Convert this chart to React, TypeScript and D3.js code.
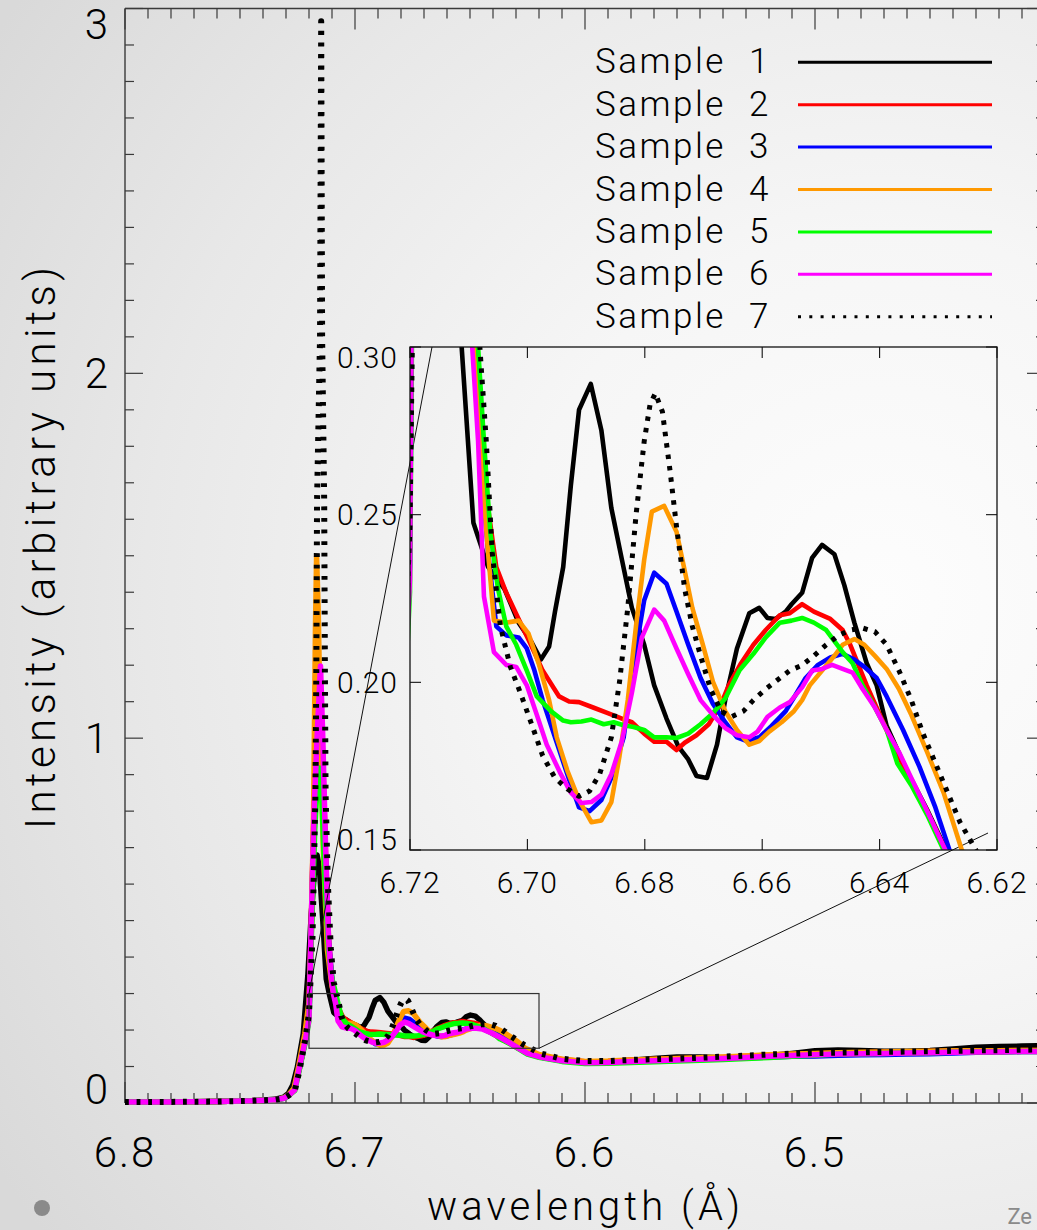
import React from 'react';
import * as d3 from 'd3';

type Pt = [number, number];

const W = 1037;
const H = 1230;

const sampleNames = ['Sample 1', 'Sample 2', 'Sample 3', 'Sample 4', 'Sample 5', 'Sample 6', 'Sample 7'];
const sampleColors = ['#000000', '#ff0000', '#0000ff', '#ff9900', '#00ff00', '#ff00ff', '#000000'];
const sampleDotted = [false, false, false, false, false, false, true];

const mainXTicks = [6.8, 6.7, 6.6, 6.5];
const mainYTicks = [0, 1, 2, 3];
const insetXTicks = [6.72, 6.70, 6.68, 6.66, 6.64, 6.62];
const insetYTicks = [0.15, 0.20, 0.25, 0.30];

// wavelength (Å), intensity
const sample1: Pt[] = [
  [6.800, 0.003], [6.780, 0.003], [6.760, 0.004], [6.745, 0.006], [6.735, 0.010], [6.731, 0.016],
  [6.729, 0.026], [6.727, 0.050], [6.725, 0.100], [6.7225, 0.190], [6.7205, 0.350], [6.7190, 0.520],
  [6.7175, 0.645], [6.7165, 0.680], [6.7155, 0.645], [6.7140, 0.500], [6.7125, 0.340], [6.7112, 0.300],
  [6.7092, 0.2476], [6.7067, 0.2344], [6.7039, 0.2278], [6.7015, 0.2178], [6.6994, 0.2123], [6.6977, 0.2068],
  [6.6963, 0.2107], [6.6953, 0.2211], [6.6939, 0.2344], [6.6926, 0.2587], [6.6912, 0.2813], [6.6892, 0.2890],
  [6.6874, 0.2752], [6.6857, 0.2520], [6.6839, 0.2366], [6.6822, 0.2222], [6.6801, 0.2112], [6.6784, 0.1991],
  [6.6763, 0.1892], [6.6743, 0.1809], [6.6726, 0.1770], [6.6712, 0.1721], [6.6694, 0.1715], [6.6677, 0.1814],
  [6.6663, 0.1947], [6.6643, 0.2101], [6.6622, 0.2206], [6.6605, 0.2222], [6.6591, 0.2192], [6.6577, 0.2189],
  [6.6560, 0.2211], [6.6550, 0.2233], [6.6532, 0.2267], [6.6515, 0.2371], [6.6498, 0.2410], [6.6477, 0.2382],
  [6.6460, 0.2289], [6.6443, 0.2178], [6.6422, 0.2057], [6.6405, 0.1991], [6.6388, 0.1870], [6.6353, 0.1735],
  [6.6319, 0.1620], [6.6288, 0.1505], [6.6250, 0.1380],
  [6.620, 0.128], [6.610, 0.117], [6.600, 0.112], [6.590, 0.113], [6.580, 0.117], [6.570, 0.122],
  [6.560, 0.126], [6.550, 0.126], [6.540, 0.124], [6.530, 0.126], [6.520, 0.130], [6.510, 0.136],
  [6.500, 0.143], [6.490, 0.145], [6.480, 0.144], [6.470, 0.142], [6.460, 0.142], [6.450, 0.144],
  [6.440, 0.148], [6.430, 0.153], [6.420, 0.155], [6.410, 0.156], [6.400, 0.157],
];

const sample2: Pt[] = [
  [6.800, 0.003], [6.780, 0.003], [6.760, 0.004], [6.745, 0.006], [6.735, 0.009], [6.731, 0.013],
  [6.729, 0.020], [6.7265, 0.036], [6.7242, 0.095], [6.7215, 0.175], [6.7200, 0.240], [6.7190, 0.500],
  [6.7178, 0.800], [6.7162, 1.040], [6.7152, 1.100], [6.7142, 0.980], [6.7128, 0.680], [6.7115, 0.450],
  [6.7102, 0.340], [6.7091, 0.300],
  [6.7077, 0.2719], [6.7067, 0.2520], [6.7053, 0.2344], [6.7036, 0.2267], [6.7015, 0.2189], [6.6994, 0.2112],
  [6.6974, 0.2035], [6.6946, 0.1958], [6.6929, 0.1943], [6.6912, 0.1941], [6.6888, 0.1925], [6.6863, 0.1908],
  [6.6839, 0.1892], [6.6822, 0.1881], [6.6801, 0.1847], [6.6784, 0.1823], [6.6763, 0.1823], [6.6746, 0.1798],
  [6.6732, 0.1820], [6.6712, 0.1842], [6.6691, 0.1875], [6.6670, 0.1936], [6.6657, 0.1991], [6.6636, 0.2057],
  [6.6615, 0.2112], [6.6594, 0.2156], [6.6570, 0.2200], [6.6553, 0.2206], [6.6532, 0.2233], [6.6512, 0.2211],
  [6.6484, 0.2189], [6.6463, 0.2156], [6.6450, 0.2112], [6.6422, 0.1991], [6.6388, 0.1858], [6.6353, 0.1726],
  [6.6319, 0.1616], [6.6288, 0.1500], [6.6250, 0.1390],
  [6.620, 0.130], [6.610, 0.119], [6.600, 0.113], [6.590, 0.114], [6.580, 0.117], [6.570, 0.119],
  [6.560, 0.121], [6.550, 0.123], [6.540, 0.125], [6.530, 0.128], [6.520, 0.131], [6.510, 0.133],
  [6.500, 0.135], [6.490, 0.137], [6.480, 0.138], [6.470, 0.139], [6.460, 0.140], [6.450, 0.141],
  [6.440, 0.142], [6.430, 0.143], [6.420, 0.143], [6.410, 0.144], [6.400, 0.144],
];

const sample3: Pt[] = [
  [6.800, 0.003], [6.780, 0.003], [6.760, 0.004], [6.745, 0.006], [6.735, 0.009], [6.731, 0.013],
  [6.729, 0.020], [6.7265, 0.036], [6.7242, 0.095], [6.7215, 0.175], [6.7200, 0.235], [6.7190, 0.480],
  [6.7178, 0.780], [6.7162, 1.000], [6.7152, 1.050], [6.7142, 0.950], [6.7128, 0.660], [6.7115, 0.440],
  [6.7100, 0.335], [6.7088, 0.300],
  [6.7077, 0.2608], [6.7067, 0.2388], [6.7053, 0.2167], [6.7036, 0.2140], [6.7015, 0.2134], [6.7001, 0.2101],
  [6.6988, 0.2035], [6.6974, 0.1947], [6.6953, 0.1836], [6.6932, 0.1726], [6.6912, 0.1627], [6.6894, 0.1616],
  [6.6874, 0.1649], [6.6857, 0.1715], [6.6836, 0.1836], [6.6819, 0.2057], [6.6801, 0.2245], [6.6784, 0.2327],
  [6.6763, 0.2294], [6.6746, 0.2211], [6.6726, 0.2112], [6.6705, 0.2013], [6.6684, 0.1936], [6.6663, 0.1881],
  [6.6643, 0.1836], [6.6626, 0.1825], [6.6605, 0.1836], [6.6584, 0.1870], [6.6560, 0.1914], [6.6543, 0.1963],
  [6.6526, 0.2013], [6.6505, 0.2052], [6.6484, 0.2074], [6.6463, 0.2085], [6.6443, 0.2068], [6.6426, 0.2046],
  [6.6405, 0.2013], [6.6388, 0.1958], [6.6360, 0.1858], [6.6332, 0.1748], [6.6305, 0.1627], [6.6281, 0.1500],
  [6.6250, 0.1380],
  [6.620, 0.127], [6.610, 0.116], [6.600, 0.110], [6.590, 0.111], [6.580, 0.113], [6.570, 0.115],
  [6.560, 0.117], [6.550, 0.119], [6.540, 0.121], [6.530, 0.124], [6.520, 0.126], [6.510, 0.128],
  [6.500, 0.129], [6.490, 0.131], [6.480, 0.132], [6.470, 0.133], [6.460, 0.134], [6.450, 0.135],
  [6.440, 0.137], [6.430, 0.139], [6.420, 0.140], [6.410, 0.141], [6.400, 0.141],
];

const sample4: Pt[] = [
  [6.800, 0.003], [6.780, 0.003], [6.760, 0.004], [6.745, 0.006], [6.735, 0.009], [6.731, 0.014],
  [6.729, 0.022], [6.7265, 0.040], [6.7245, 0.100], [6.7218, 0.190], [6.7200, 0.276], [6.7190, 0.470],
  [6.7180, 0.800], [6.7172, 1.300], [6.7167, 1.497], [6.7160, 1.350], [6.7150, 1.000], [6.7138, 0.700],
  [6.7120, 0.420], [6.7100, 0.320], [6.7091, 0.300],
  [6.7077, 0.2608], [6.7067, 0.2388], [6.7057, 0.2184], [6.7036, 0.2178], [6.7015, 0.2184], [6.6998, 0.2145],
  [6.6981, 0.2057], [6.6963, 0.1947], [6.6950, 0.1836], [6.6932, 0.1737], [6.6912, 0.1649], [6.6891, 0.1583],
  [6.6874, 0.1588], [6.6857, 0.1643], [6.6843, 0.1781], [6.6829, 0.1947], [6.6815, 0.2167], [6.6801, 0.2366],
  [6.6788, 0.2509], [6.6767, 0.2526], [6.6746, 0.2449], [6.6732, 0.2333], [6.6719, 0.2222], [6.6701, 0.2112],
  [6.6684, 0.2002], [6.6663, 0.1914], [6.6643, 0.1858], [6.6622, 0.1814], [6.6605, 0.1825], [6.6588, 0.1853],
  [6.6567, 0.1881], [6.6546, 0.1914], [6.6532, 0.1947], [6.6519, 0.1991], [6.6498, 0.2035], [6.6477, 0.2079],
  [6.6463, 0.2112], [6.6443, 0.2129], [6.6426, 0.2112], [6.6408, 0.2079], [6.6388, 0.2040], [6.6367, 0.1980],
  [6.6346, 0.1903], [6.6319, 0.1792], [6.6291, 0.1671], [6.6260, 0.1500],
  [6.620, 0.133], [6.610, 0.120], [6.600, 0.114], [6.590, 0.115], [6.580, 0.118], [6.570, 0.120],
  [6.560, 0.122], [6.550, 0.124], [6.540, 0.126], [6.530, 0.129], [6.520, 0.132], [6.510, 0.134],
  [6.500, 0.136], [6.490, 0.138], [6.480, 0.139], [6.470, 0.140], [6.460, 0.141], [6.450, 0.142],
  [6.440, 0.143], [6.430, 0.143], [6.420, 0.143], [6.410, 0.144], [6.400, 0.144],
];

const sample5: Pt[] = [
  [6.800, 0.003], [6.780, 0.003], [6.760, 0.004], [6.745, 0.006], [6.735, 0.009], [6.731, 0.013],
  [6.729, 0.020], [6.7262, 0.034], [6.7241, 0.095], [6.7215, 0.170], [6.7200, 0.227], [6.7190, 0.450],
  [6.7175, 0.750], [6.7162, 0.900], [6.7154, 0.918], [6.7145, 0.850], [6.7130, 0.600], [6.7115, 0.420],
  [6.7100, 0.340], [6.7084, 0.300],
  [6.7074, 0.2719], [6.7063, 0.2443], [6.7050, 0.2278], [6.7036, 0.2167], [6.7019, 0.2112], [6.7001, 0.2035],
  [6.6984, 0.1958], [6.6960, 0.1914], [6.6939, 0.1886], [6.6926, 0.1881], [6.6908, 0.1883], [6.6891, 0.1889],
  [6.6870, 0.1875], [6.6853, 0.1881], [6.6836, 0.1872], [6.6819, 0.1867], [6.6801, 0.1858], [6.6784, 0.1836],
  [6.6763, 0.1836], [6.6746, 0.1834], [6.6726, 0.1847], [6.6705, 0.1875], [6.6684, 0.1908], [6.6663, 0.1952],
  [6.6639, 0.2035], [6.6615, 0.2085], [6.6594, 0.2134], [6.6570, 0.2178], [6.6550, 0.2184], [6.6532, 0.2192],
  [6.6512, 0.2178], [6.6491, 0.2156], [6.6477, 0.2123], [6.6463, 0.2090], [6.6446, 0.2057], [6.6429, 0.1991],
  [6.6408, 0.1925], [6.6388, 0.1858], [6.6370, 0.1759], [6.6346, 0.1693], [6.6319, 0.1605], [6.6291, 0.1500],
  [6.6250, 0.1340],
  [6.620, 0.125], [6.610, 0.114], [6.600, 0.108], [6.590, 0.109], [6.580, 0.111], [6.570, 0.113],
  [6.560, 0.115], [6.550, 0.117], [6.540, 0.119], [6.530, 0.122], [6.520, 0.125], [6.510, 0.128],
  [6.500, 0.131], [6.490, 0.134], [6.480, 0.135], [6.470, 0.136], [6.460, 0.137], [6.450, 0.138],
  [6.440, 0.139], [6.430, 0.140], [6.420, 0.140], [6.410, 0.141], [6.400, 0.141],
];

const sample6: Pt[] = [
  [6.800, 0.003], [6.780, 0.003], [6.760, 0.004], [6.745, 0.006], [6.735, 0.009], [6.731, 0.013],
  [6.729, 0.020], [6.7262, 0.036], [6.7241, 0.100], [6.7215, 0.175], [6.7200, 0.231], [6.7190, 0.500],
  [6.7178, 0.800], [6.7165, 1.000], [6.7150, 1.198], [6.7140, 1.000], [6.7128, 0.700], [6.7115, 0.450],
  [6.7104, 0.350], [6.7094, 0.300],
  [6.7084, 0.2719], [6.7074, 0.2256], [6.7057, 0.2090], [6.7036, 0.2052], [6.7019, 0.2046], [6.7001, 0.1991],
  [6.6984, 0.1903], [6.6967, 0.1814], [6.6943, 0.1726], [6.6926, 0.1671], [6.6908, 0.1640], [6.6891, 0.1643],
  [6.6874, 0.1665], [6.6857, 0.1726], [6.6839, 0.1825], [6.6822, 0.1969], [6.6805, 0.2134], [6.6784, 0.2217],
  [6.6767, 0.2184], [6.6746, 0.2101], [6.6726, 0.2024], [6.6705, 0.1947], [6.6684, 0.1903], [6.6663, 0.1864],
  [6.6643, 0.1842], [6.6622, 0.1836], [6.6608, 0.1853], [6.6591, 0.1897], [6.6570, 0.1925], [6.6553, 0.1941],
  [6.6532, 0.1985], [6.6515, 0.2035], [6.6498, 0.2040], [6.6481, 0.2052], [6.6463, 0.2040], [6.6446, 0.2029],
  [6.6429, 0.1980], [6.6408, 0.1925], [6.6388, 0.1858], [6.6367, 0.1792], [6.6346, 0.1715], [6.6319, 0.1616],
  [6.6288, 0.1500], [6.6250, 0.1360],
  [6.620, 0.127], [6.610, 0.116], [6.600, 0.110], [6.590, 0.111], [6.580, 0.114], [6.570, 0.116],
  [6.560, 0.118], [6.550, 0.120], [6.540, 0.122], [6.530, 0.125], [6.520, 0.128], [6.510, 0.130],
  [6.500, 0.132], [6.490, 0.134], [6.480, 0.135], [6.470, 0.136], [6.460, 0.137], [6.450, 0.138],
  [6.440, 0.139], [6.430, 0.140], [6.420, 0.140], [6.410, 0.141], [6.400, 0.141],
];

const sample7: Pt[] = [
  [6.800, 0.003], [6.780, 0.003], [6.760, 0.004], [6.745, 0.006], [6.735, 0.009], [6.731, 0.013],
  [6.729, 0.020], [6.7262, 0.033], [6.7241, 0.090], [6.7215, 0.180], [6.7200, 0.2465], [6.7185, 0.450],
  [6.7172, 0.850], [6.7168, 1.200], [6.7165, 1.650], [6.7152, 2.100], [6.7147, 2.965], [6.7143, 2.100],
  [6.7134, 1.650], [6.7131, 1.200], [6.7128, 0.850], [6.7118, 0.600], [6.7105, 0.420], [6.7092, 0.330],
  [6.7081, 0.300],
  [6.7070, 0.2719], [6.7060, 0.2388], [6.7046, 0.2167], [6.7029, 0.2046], [6.7012, 0.1969], [6.6994, 0.1881],
  [6.6974, 0.1781], [6.6953, 0.1715], [6.6932, 0.1682], [6.6912, 0.1660], [6.6894, 0.1676], [6.6877, 0.1726],
  [6.6857, 0.1836], [6.6843, 0.2002], [6.6829, 0.2222], [6.6815, 0.2498], [6.6801, 0.2719], [6.6791, 0.2829],
  [6.6782, 0.2862], [6.6770, 0.2807], [6.6757, 0.2631], [6.6746, 0.2465], [6.6732, 0.2278], [6.6719, 0.2167],
  [6.6705, 0.2079], [6.6688, 0.1980], [6.6670, 0.1914], [6.6653, 0.1897], [6.6632, 0.1914], [6.6615, 0.1947],
  [6.6594, 0.1980], [6.6574, 0.2007], [6.6553, 0.2035], [6.6532, 0.2051], [6.6512, 0.2079], [6.6491, 0.2112],
  [6.6470, 0.2140], [6.6450, 0.2156], [6.6429, 0.2162], [6.6408, 0.2151], [6.6388, 0.2112], [6.6367, 0.2035],
  [6.6346, 0.1947], [6.6326, 0.1847], [6.6305, 0.1759], [6.6284, 0.1671], [6.6263, 0.1583], [6.6236, 0.1500],
  [6.620, 0.137], [6.610, 0.121], [6.600, 0.115], [6.590, 0.115], [6.580, 0.118], [6.570, 0.120],
  [6.560, 0.122], [6.550, 0.124], [6.540, 0.127], [6.530, 0.130], [6.520, 0.133], [6.510, 0.135],
  [6.500, 0.137], [6.490, 0.138], [6.480, 0.139], [6.470, 0.140], [6.460, 0.141], [6.450, 0.142],
  [6.440, 0.143], [6.430, 0.144], [6.420, 0.145], [6.410, 0.146], [6.400, 0.147],
];

const allSamples: Pt[][] = [sample1, sample2, sample3, sample4, sample5, sample6, sample7];

const FONT = 'Roboto, "DejaVu Sans", sans-serif';

export default function App() {
  const M = { left: 125, right: 1045, top: 8.5, bottom: 1103 };
  const INS = { left: 410, right: 997, top: 347, bottom: 850 };

  const x = d3.scaleLinear().domain([6.8, 6.4]).range([M.left, M.right]);
  const y = d3.scaleLinear().domain([0, 3]).range([M.bottom, M.top]);
  const xi = d3.scaleLinear().domain([6.72, 6.62]).range([INS.left, INS.right]);
  const yi = d3.scaleLinear().domain([0.15, 0.30]).range([INS.bottom, INS.top]);

  const mainLine = d3.line<Pt>().x(d => x(d[0])).y(d => y(d[1]));
  const insetLine = d3.line<Pt>().x(d => xi(d[0])).y(d => yi(d[1]));

  const xMinor = d3.range(0, 41).map(i => 6.8 - i * 0.01);
  const yMinor = d3.range(0, 31).map(i => i * 0.1);
  const isMajorX = (v: number) => Math.abs(v * 10 - Math.round(v * 10)) < 1e-6;
  const isMajorY = (v: number) => Math.abs(v - Math.round(v)) < 1e-6;

  const axisColor = '#3a3a3a';

  const legendY0 = 62.3;
  const legendDY = 42.4;

  return (
    <svg width={W} height={H} style={{ position: 'absolute', left: 0, top: 0, display: 'block' }} fontFamily={FONT}>
      <defs>
        <radialGradient id="bg" gradientUnits="userSpaceOnUse" cx={880} cy={600} r={1050}>
          <stop offset="0" stopColor="#fdfdfd" />
          <stop offset="0.35" stopColor="#f6f6f6" />
          <stop offset="0.7" stopColor="#e8e8e8" />
          <stop offset="1" stopColor="#d9d9d9" />
        </radialGradient>
        <clipPath id="mainClip">
          <rect x={M.left} y={M.top - 2} width={M.right - M.left} height={M.bottom - M.top + 4} />
        </clipPath>
        <clipPath id="insetClip">
          <rect x={INS.left} y={INS.top} width={INS.right - INS.left} height={INS.bottom - INS.top} />
        </clipPath>
      </defs>
      <rect x={0} y={0} width={W} height={H} fill="url(#bg)" />

      {/* main axes */}
      <g stroke={axisColor} strokeWidth={1.4} fill="none">
        <line x1={M.left} y1={M.bottom} x2={M.right} y2={M.bottom} />
        <line x1={M.left} y1={M.top} x2={M.right} y2={M.top} />
        <line x1={M.left} y1={M.top} x2={M.left} y2={M.bottom} />
        <line x1={M.right} y1={M.top} x2={M.right} y2={M.bottom} />
      </g>
      <g stroke={axisColor} strokeWidth={1.2}>
        {xMinor.map((v, i) => {
          const len = isMajorX(v) ? 21 : 10;
          return (
            <g key={'xt' + i}>
              <line x1={x(v)} x2={x(v)} y1={M.bottom} y2={M.bottom - len} />
              <line x1={x(v)} x2={x(v)} y1={M.top} y2={M.top + len} />
            </g>
          );
        })}
        {yMinor.map((v, i) => {
          const len = isMajorY(v) ? 18 : 9;
          return (
            <g key={'yt' + i}>
              <line x1={M.left} x2={M.left + len} y1={y(v)} y2={y(v)} />
              <line x1={M.right} x2={M.right - len} y1={y(v)} y2={y(v)} />
            </g>
          );
        })}
      </g>
      <g fontSize={42} fontWeight={300} fill="#000">
        {mainXTicks.map(v => (
          <text key={'xl' + v} x={x(v)} y={1167} textAnchor="middle" letterSpacing={2}>
            {v.toFixed(1)}
          </text>
        ))}
        {mainYTicks.map((v, i) => {
          const by = i === 0 ? M.bottom + 1 : i === mainYTicks.length - 1 ? M.top + 30 : y(v) + 15;
          return (
            <text key={'yl' + v} x={108} y={by} textAnchor="end">
              {String(v)}
            </text>
          );
        })}
      </g>
      <text x={583.5} y={1220} fontSize={40} fontWeight={300} textAnchor="middle" textLength={313} lengthAdjust="spacing">
        wavelength (Å)
      </text>
      <text
        transform="translate(55,548) rotate(-90)"
        fontSize={42}
        fontWeight={300}
        textAnchor="middle"
        textLength={562}
        lengthAdjust="spacing"
      >
        Intensity (arbitrary units)
      </text>

      {/* main curves */}
      <g clipPath="url(#mainClip)" fill="none">
        {allSamples.map((s, i) => (
          <path
            key={'m' + i}
            d={mainLine(s) || ''}
            stroke={sampleColors[i]}
            strokeWidth={sampleDotted[i] ? 6 : 5.5}
            strokeDasharray={sampleDotted[i] ? '3.8 7.8' : undefined}
            strokeLinejoin="round"
          />
        ))}
      </g>

      {/* zoom rectangle and connector lines */}
      <rect
        x={x(6.72)}
        y={y(0.30)}
        width={x(6.62) - x(6.72)}
        height={y(0.15) - y(0.30)}
        fill="none"
        stroke="#333"
        strokeWidth={1.2}
      />
      <line x1={x(6.72)} y1={y(0.30)} x2={INS.left + 22} y2={INS.top} stroke="#111" strokeWidth={1} />
      <line x1={x(6.62)} y1={y(0.15)} x2={INS.right - 9} y2={INS.bottom - 17} stroke="#111" strokeWidth={1} />

      {/* inset */}
      <g clipPath="url(#insetClip)" fill="none">
        {allSamples.map((s, i) => (
          <path
            key={'i' + i}
            d={insetLine(s) || ''}
            stroke={sampleColors[i]}
            strokeWidth={sampleDotted[i] ? 5 : 4.6}
            strokeDasharray={sampleDotted[i] ? '4.5 7' : undefined}
            strokeLinejoin="round"
          />
        ))}
      </g>
      <rect
        x={INS.left}
        y={INS.top}
        width={INS.right - INS.left}
        height={INS.bottom - INS.top}
        fill="none"
        stroke="#111"
        strokeWidth={1.3}
      />
      <g stroke="#111" strokeWidth={1.1}>
        {insetXTicks.map(v => (
          <g key={'ixt' + v}>
            <line x1={xi(v)} x2={xi(v)} y1={INS.bottom} y2={INS.bottom - 11} />
            <line x1={xi(v)} x2={xi(v)} y1={INS.top} y2={INS.top + 11} />
          </g>
        ))}
        {insetYTicks.map(v => (
          <g key={'iyt' + v}>
            <line x1={INS.left} x2={INS.left + 11} y1={yi(v)} y2={yi(v)} />
            <line x1={INS.right} x2={INS.right - 11} y1={yi(v)} y2={yi(v)} />
          </g>
        ))}
      </g>
      <g fontSize={30} fontWeight={300} fill="#000">
        {insetXTicks.map(v => (
          <text key={'ixl' + v} x={xi(v)} y={893} textAnchor="middle" letterSpacing={1}>
            {v.toFixed(2)}
          </text>
        ))}
        {insetYTicks.map((v, i) => {
          const by = i === 0 ? INS.bottom : i === insetYTicks.length - 1 ? INS.top + 20.5 : yi(v) + 10.5;
          return (
            <text key={'iyl' + v} x={398} y={by} textAnchor="end" letterSpacing={1}>
              {v.toFixed(2)}
            </text>
          );
        })}
      </g>

      {/* legend */}
      <g fontSize={35} fontWeight={300} fill="#000">
        {sampleNames.map((name, i) => {
          const ly = legendY0 + legendDY * i;
          const parts = name.split(' ');
          return (
            <g key={'lg' + i}>
              <text x={595} y={ly + 11} letterSpacing={2.5}>
                {parts[0] + ' '}
                <tspan x={749}>{parts[1]}</tspan>
              </text>
              <line
                x1={798}
                x2={992}
                y1={ly}
                y2={ly}
                stroke={sampleColors[i]}
                strokeWidth={3}
                strokeDasharray={sampleDotted[i] ? '3 8.3' : undefined}
              />
            </g>
          );
        })}
      </g>

      {/* decorations */}
      <circle cx={42} cy={1208} r={8} fill="#8a8a8a" />
      <text x={1032} y={1224} fontSize={22} fill="#8a8a8a" textAnchor="end">Ze</text>
    </svg>
  );
}
